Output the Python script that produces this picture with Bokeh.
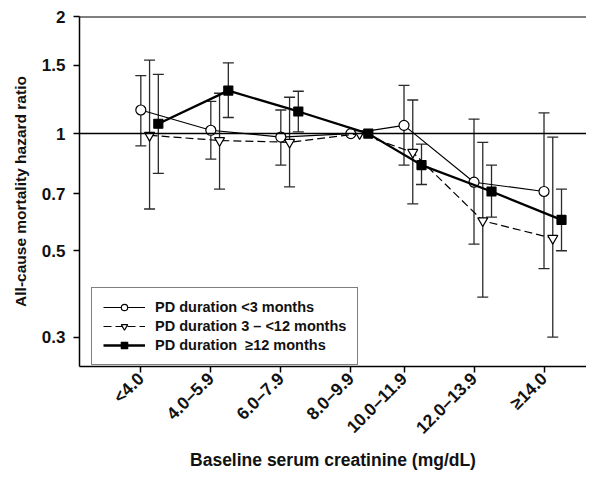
import math
from bokeh.plotting import figure
from bokeh.models import (ColumnDataSource, FixedTicker, CustomJSTickFormatter,
                          Whisker, TeeHead, Span, Legend, LegendItem)
from bokeh.embed import file_html
from bokeh.resources import INLINE

# ---- data ----
categories = ["<4.0", "4.0\u20135.9", "6.0\u20137.9", "8.0\u20139.9",
              "10.0\u201311.9", "12.0\u201313.9", "\u226514.0"]
x_pos = [1, 2, 3, 4, 4.76, 5.76, 6.76]
series_names = ["PD duration <3 months",
                "PD duration 3 \u2013 <12 months",
                "PD duration  \u226512 months"]

hr_lt3 = [1.15, 1.02, 0.98, 1.0, 1.05, 0.75, 0.71]
lo_lt3 = [0.93, 0.86, 0.83, None, 0.83, 0.52, 0.45]
hi_lt3 = [1.41, 1.21, 1.15, None, 1.33, 1.09, 1.13]

hr_3to12 = [0.99, 0.96, 0.95, 1.0, 0.895, 0.597, 0.538]
lo_3to12 = [0.64, 0.72, 0.73, None, 0.66, 0.38, 0.30]
hi_3to12 = [1.545, 1.27, 1.24, None, 1.22, 0.95, 0.98]

hr_ge12 = [1.06, 1.29, 1.14, 1.0, 0.83, 0.71, 0.60]
lo_ge12 = [0.79, 1.10, 1.01, None, 0.74, 0.61, 0.50]
hi_ge12 = [1.42, 1.52, 1.285, None, 0.94, 0.83, 0.72]

y_ticks = [0.3, 0.5, 0.7, 1, 1.5, 2]

FONT = "Liberation Sans"

p = figure(width=586, height=472, y_axis_type="log",
           x_range=(0.124, 7.367), y_range=(0.252, 2.0),
           output_backend="svg", toolbar_location=None,
           min_border_left=79, min_border_top=16, min_border_right=0,
           min_border_bottom=94)
p.outline_line_color = None
p.grid.visible = False
p.background_fill_color = "white"

# axes styling
for ax in (p.xaxis[0], p.yaxis[0]):
    ax.axis_line_color = "black"
    ax.axis_line_width = 1.5
    ax.major_tick_line_color = "black"
    ax.major_tick_line_width = 1.5
    ax.major_tick_out = 6
    ax.major_tick_in = 0
    ax.minor_tick_line_color = None
    ax.major_label_text_font = FONT
    ax.major_label_text_font_style = "bold"
    ax.major_label_text_color = "#111111"
    ax.axis_label_text_font = FONT
    ax.axis_label_text_font_style = "bold"
    ax.axis_label_text_color = "#111111"

p.yaxis.ticker = FixedTicker(ticks=y_ticks, minor_ticks=[])
p.yaxis.formatter = CustomJSTickFormatter(code="return String(tick);")
p.yaxis.major_label_text_font_size = "17px"
p.yaxis.major_label_standoff = 8
p.yaxis.axis_label = "All-cause mortality hazard ratio"
p.yaxis.axis_label_text_font_size = "15.5px"
p.yaxis.axis_label_standoff = 10

p.xaxis.ticker = FixedTicker(ticks=x_pos, minor_ticks=[])
p.xaxis.formatter = CustomJSTickFormatter(args=dict(pos=x_pos, labels=categories), code="""
let best = 0;
for (let i = 0; i < pos.length; i++) {
  if (Math.abs(pos[i] - tick) < Math.abs(pos[best] - tick)) best = i;
}
return labels[best];
""")
p.xaxis.major_label_orientation = math.pi / 4
p.xaxis.major_label_text_font_size = "17.5px"
p.xaxis.major_label_standoff = 3
p.xaxis.axis_label = "Baseline serum creatinine (mg/dL)"
p.xaxis.axis_label_text_font_size = "17.5px"
p.xaxis.axis_label_standoff = 2

# top border and reference line
p.add_layout(Span(location=2.0, dimension="width", line_color="black", line_width=2))
p.add_layout(Span(location=1.0, dimension="width", line_color="black", line_width=1.5))

offsets = [0.0, 0.125, 0.25]
series = [(hr_lt3, lo_lt3, hi_lt3), (hr_3to12, lo_3to12, hi_3to12), (hr_ge12, lo_ge12, hi_ge12)]
line_styles = [dict(line_width=1.2, line_dash="solid"),
               dict(line_width=1.2, line_dash="8 4"),
               dict(line_width=2.3, line_dash="solid")]
markers = [dict(marker="circle", size=10, fill_color="white"),
           dict(marker="inverted_triangle", size=10, fill_color="white"),
           dict(marker="square", size=9, fill_color="black")]

for k, (hr, lo, hi) in enumerate(series):
    xs = [x + offsets[k] for x in x_pos]
    ex = [xs[i] for i in range(len(xs)) if lo[i] is not None]
    el = [lo[i] for i in range(len(xs)) if lo[i] is not None]
    eh = [hi[i] for i in range(len(xs)) if lo[i] is not None]
    esrc = ColumnDataSource(dict(x=ex, lo=el, hi=eh))
    w = Whisker(base="x", lower="lo", upper="hi", source=esrc,
                line_color="#2a2a2a", line_width=1.3, level="underlay",
                upper_head=TeeHead(size=11, line_color="#2a2a2a", line_width=1.3),
                lower_head=TeeHead(size=11, line_color="#2a2a2a", line_width=1.3))
    p.add_layout(w)

items = []
for k, (hr, lo, hi) in enumerate(series):
    xs = [x + offsets[k] for x in x_pos]
    src = ColumnDataSource(dict(x=xs, y=hr))
    ln = p.line("x", "y", source=src, line_color="black", **line_styles[k])
    sc = p.scatter("x", "y", source=src, line_color="black", line_width=1.2, **markers[k])
    items.append(LegendItem(label=series_names[k], renderers=[ln, sc]))

legend = Legend(items=items, location=(12, 1), orientation="vertical",
                label_text_font=FONT, label_text_font_style="bold",
                label_text_font_size="14.5px", label_text_color="#111111",
                glyph_width=42, glyph_height=16, label_height=16,
                spacing=3, padding=11, margin=0, label_standoff=10,
                border_line_color="black", border_line_width=1.5,
                background_fill_color="white", background_fill_alpha=1.0)
p.add_layout(legend, "center")

open("out.html", "w").write(file_html(p, INLINE))
